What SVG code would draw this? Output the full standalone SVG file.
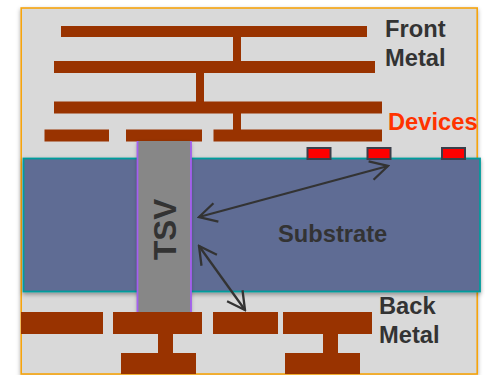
<svg xmlns="http://www.w3.org/2000/svg" width="485" height="375" viewBox="0 0 485 375">
<style>
.m{fill:#993300}
.t{font-family:"Liberation Sans",Arial,sans-serif;font-weight:700;fill:#333333;font-size:23.7px}
.d{fill:#ff0000;stroke:#3a3f4a;stroke-width:2}
.a{fill:none;stroke:#333333;stroke-width:2.3}
</style>
<defs>
<filter id="s" x="-10%" y="-10%" width="120%" height="120%"><feDropShadow dx="0" dy="2" stdDeviation="2" flood-color="#000000" flood-opacity="0.35"/></filter>
<marker id="h" viewBox="-20 -11 22 22" markerWidth="22" markerHeight="22" refX="0" refY="0" orient="auto-start-reverse" markerUnits="userSpaceOnUse"><path d="M-17.5-9.5L0 0L-17.5 9.5" fill="none" stroke="#333333" stroke-width="2.3"/></marker>
</defs>
<rect width="485" height="375" fill="#ffffff"/>
<g id="frame"><rect x="21.2" y="8" width="456" height="366" fill="#d9d9d9" stroke="#f5a40c" stroke-width="1.6" filter="url(#s)"/></g>
<g id="front-metal">
<rect class="m" x="61" y="26" width="306" height="11"/>
<rect class="m" x="233" y="37" width="8" height="24"/>
<rect class="m" x="54" y="61" width="321" height="12"/>
<rect class="m" x="196" y="73" width="8" height="29"/>
<rect class="m" x="54" y="101.5" width="328" height="12"/>
<rect class="m" x="233" y="113" width="8" height="17"/>
<rect class="m" x="44.5" y="129.5" width="64.5" height="12"/>
<rect class="m" x="126" y="129.5" width="76" height="12"/>
<rect class="m" x="213.5" y="129.5" width="168.5" height="12"/>
</g>
<g id="substrate"><rect x="23.5" y="158.5" width="456.5" height="133" fill="#5e6c94" stroke="#009c9c" stroke-width="1.8" filter="url(#s)"/>
<text class="t" x="278" y="242">Substrate</text></g>
<g id="tsv"><rect x="137.5" y="141" width="53.5" height="171" fill="#878787" filter="url(#s)"/>
<path d="M137.5 141V312M191 141V312" fill="none" stroke="#a45ff0" stroke-width="1.8"/>
<text class="t" style="font-size:31.5px" transform="translate(176 260) rotate(-90)">TSV</text></g>
<g id="devices">
<rect class="d" x="307.5" y="148" width="23" height="11"/>
<rect class="d" x="367.5" y="148" width="23" height="11"/>
<rect class="d" x="442" y="148" width="23" height="11"/>
</g>
<g id="back-metal">
<rect class="m" x="21" y="312" width="82" height="22"/>
<rect class="m" x="113" y="312" width="89" height="22"/>
<rect class="m" x="213" y="312" width="65" height="22"/>
<rect class="m" x="283" y="312" width="89" height="22"/>
<rect class="m" x="158" y="334" width="15" height="19"/>
<rect class="m" x="323" y="334" width="15" height="19"/>
<rect class="m" x="121" y="353" width="75" height="21"/>
<rect class="m" x="285" y="353" width="75" height="21"/>
</g>
<g id="connectors">
<line class="a" x1="199" y1="217" x2="388" y2="166" marker-start="url(#h)" marker-end="url(#h)"/>
<line class="a" x1="199" y1="246" x2="245" y2="310" marker-start="url(#h)" marker-end="url(#h)"/>
</g>
<g id="labels">
<text class="t" x="385" y="37">Front</text>
<text class="t" x="385" y="66">Metal</text>
<text class="t" x="388" y="130" style="fill:#ff3300">Devices</text>
<text class="t" x="379" y="314">Back</text>
<text class="t" x="379" y="343">Metal</text>
</g>
</svg>
